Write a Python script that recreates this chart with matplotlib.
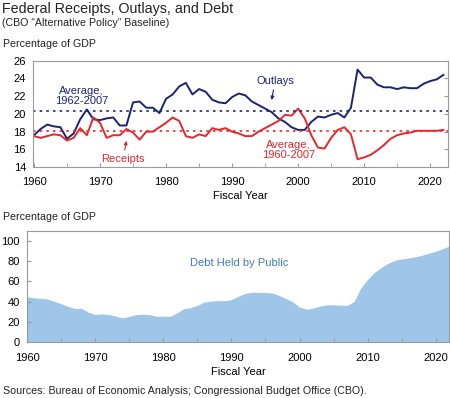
import matplotlib.pyplot as plt

plt.rcParams["font.family"] = ["Liberation Sans", "DejaVu Sans"]

NAVY = "#1b2470"
RED = "#e8262b"
FILL = "#9fc5e8"
DEBT_TXT = "#3d7ec0"
FRAME = "#9a9a9a"

years = list(range(1960, 2023))

outlays = [17.6, 18.3, 18.8, 18.6, 18.5, 17.2, 17.8, 19.4, 20.5, 19.4,
           19.3, 19.5, 19.6, 18.7, 18.7, 21.3, 21.4, 20.7, 20.7, 20.1,
           21.7, 22.2, 23.1, 23.5, 22.2, 22.8, 22.5, 21.6, 21.3, 21.2,
           21.9, 22.3, 22.1, 21.4, 21.0, 20.6, 20.2, 19.5, 19.1, 18.5,
           18.2, 18.2, 19.1, 19.7, 19.6, 19.9, 20.1, 19.6, 20.7, 25.0,
           24.1, 24.1, 23.3, 23.0, 23.0, 22.8, 23.0, 22.9, 22.9, 23.4,
           23.7, 23.9, 24.4]

receipts = [17.5, 17.3, 17.5, 17.7, 17.6, 17.0, 17.3, 18.4, 17.6, 19.6,
            19.0, 17.3, 17.6, 17.6, 18.3, 17.9, 17.1, 18.0, 18.0, 18.5,
            19.0, 19.6, 19.2, 17.5, 17.3, 17.7, 17.5, 18.4, 18.2, 18.4,
            18.0, 17.8, 17.5, 17.5, 18.0, 18.4, 18.8, 19.2, 19.9, 19.8,
            20.6, 19.5, 17.6, 16.2, 16.1, 17.3, 18.2, 18.5, 17.7, 14.9,
            15.1, 15.4, 15.9, 16.5, 17.2, 17.6, 17.8, 17.9, 18.1, 18.1,
            18.1, 18.1, 18.2]

debt = [44.8, 43.8, 43.3, 42.6, 40.3, 38.0, 35.4, 33.2, 33.4, 29.5,
        27.3, 27.8, 27.2, 25.8, 23.9, 25.3, 27.2, 27.5, 27.1, 25.5,
        25.6, 25.4, 28.7, 33.1, 34.0, 36.4, 39.5, 40.6, 41.0, 40.9,
        42.1, 45.3, 48.1, 49.3, 49.2, 49.1, 48.5, 46.1, 43.1, 39.8,
        34.7, 32.5, 33.6, 35.6, 36.8, 36.9, 36.5, 36.2, 40.2, 53.6,
        62.1, 69.0, 74.0, 78.0, 81.0, 82.2, 83.2, 84.5, 86.0, 88.0,
        90.0, 92.5, 95.0]

avg_outlays = 20.3
avg_receipts = 18.1

fig = plt.figure(figsize=(4.5, 3.98), dpi=100)

fig.text(0.004, 0.977, "Federal Receipts, Outlays, and Debt", fontsize=10.3,
         color="#222222", va="center")
fig.text(0.004, 0.941, "(CBO \u201cAlternative Policy\u201d Baseline)", fontsize=7.7,
         color="#222222", va="center")
fig.text(0.007, 0.889, "Percentage of GDP", fontsize=7.7, color="#222222", va="center")
fig.text(0.007, 0.455, "Percentage of GDP", fontsize=7.7, color="#222222", va="center")
fig.text(0.007, 0.018, "Sources: Bureau of Economic Analysis; Congressional Budget Office (CBO).",
         fontsize=7.7, color="#222222", va="center")

# top panel: receipts and outlays
ax1 = fig.add_axes([0.0733, 0.580, 0.9223, 0.2675])
ax1.plot(years, outlays, color=NAVY, lw=1.4)
ax1.plot(years, receipts, color=RED, lw=1.4)
ax1.axhline(avg_outlays, color=NAVY, lw=1.2, ls=(0, (1.5, 2.5)))
ax1.axhline(avg_receipts, color=RED, lw=1.2, ls=(0, (1.5, 2.5)))
ax1.set_xlim(1959.85, 2022.7)
ax1.set_ylim(14, 26)
ax1.set_yticks(range(14, 27, 2))
ax1.set_xticks(range(1960, 2021, 10))
ax1.set_xticks(range(1965, 2021, 10), minor=True)
ax1.tick_params(axis="x", direction="in", length=3, color=FRAME, labelsize=8,
                pad=7, which="both")
ax1.tick_params(axis="y", direction="in", length=3, color=FRAME, labelsize=8,
                left=False, right=True, labelleft=True, pad=5)
ax1.set_xlabel("Fiscal Year", fontsize=8, labelpad=3)
for s in ax1.spines.values():
    s.set_color(FRAME)
    s.set_linewidth(0.8)

ax1.text(1967.2, 22.07, "Average,\n1962-2007", color=NAVY, fontsize=8,
         ha="center", va="center", linespacing=1.0)
ax1.annotate("Receipts", xy=(1974.0, 16.97), xytext=(1973.5, 14.9), color=RED,
             fontsize=8, ha="center", va="center",
             arrowprops=dict(arrowstyle="-|>", color=RED, lw=0.8,
                             mutation_scale=5, shrinkA=1, shrinkB=0))
ax1.annotate("Outlays", xy=(1996.0, 21.56), xytext=(1996.5, 23.74), color=NAVY,
             fontsize=8, ha="center", va="center",
             arrowprops=dict(arrowstyle="-|>", color=NAVY, lw=0.8,
                             mutation_scale=5, shrinkA=1, shrinkB=0))
ax1.text(1998.5, 15.98, "Average,\n1960-2007", color=RED, fontsize=8,
         ha="center", va="center", linespacing=1.0)

# bottom panel: debt held by public
ax2 = fig.add_axes([0.060, 0.1407, 0.938, 0.2789])
ax2.fill_between(years, debt, 0, color=FILL, lw=0)
ax2.set_xlim(1960, 2021.95)
ax2.set_ylim(0, 110)
ax2.set_yticks(range(0, 101, 20))
ax2.set_xticks(range(1960, 2021, 10))
ax2.set_xticks(range(1965, 2021, 10), minor=True)
ax2.tick_params(axis="x", direction="in", length=3, color=FRAME, labelsize=8,
                pad=8, which="both")
ax2.tick_params(axis="y", direction="in", length=3, color=FRAME, labelsize=8,
                pad=5)
ax2.set_xlabel("Fiscal Year", fontsize=8, labelpad=3)
for s in ax2.spines.values():
    s.set_color(FRAME)
    s.set_linewidth(0.8)
ax2.text(1991.2, 77.9, "Debt Held by Public", color=DEBT_TXT, fontsize=8,
         ha="center", va="center")

fig.savefig("out.png", dpi=100)
